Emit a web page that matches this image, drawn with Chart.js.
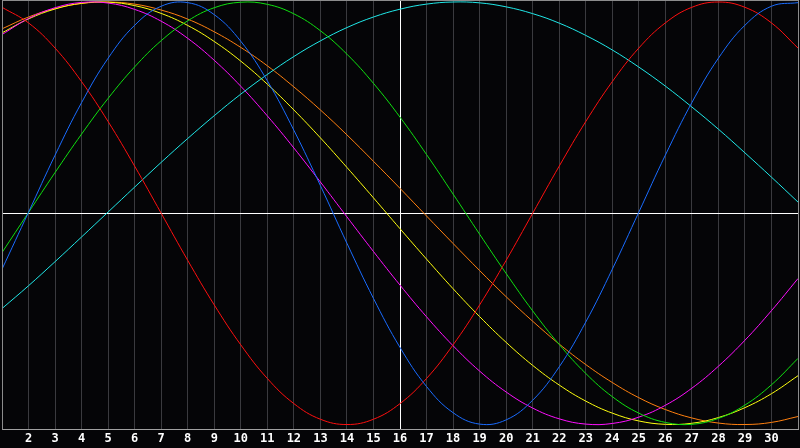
<!DOCTYPE html>
<html>
<head>
<meta charset="utf-8">
<script src="https://cdn.jsdelivr.net/npm/chart.js@4.4.1/dist/chart.umd.min.js"></script>
<style>
html,body{margin:0;padding:0;background:#050507;}
#wrap{width:800px;height:448px;position:relative;}
</style>
</head>
<body>
<div id="wrap"><canvas id="c"></canvas></div>
<script>
const days = [1,2,3,4,5,6,7,8,9,10,11,12,13,14,15,16,17,18,19,20,21,22,23,24,25,26,27,28,29,30,31];
const highlightDay = 16;

const physical = [-0.265,0.005,0.275,0.524,0.734,0.890,0.980,0.997,0.940,0.814,0.627,0.393,0.131,-0.142,-0.403,-0.635,-0.820,-0.944,-0.998,-0.978,-0.885,-0.727,-0.515,-0.265,0.005,0.275,0.524,0.734,0.890,0.980,0.997];
const emotional = [0.975,0.901,0.782,0.623,0.434,0.223,0,-0.223,-0.434,-0.623,-0.782,-0.901,-0.975,-1,-0.975,-0.901,-0.782,-0.623,-0.434,-0.223,0,0.223,0.434,0.623,0.782,0.901,0.975,1,0.975,0.901,0.782];
const intellectual = [-0.186,0.004,0.193,0.375,0.544,0.693,0.817,0.911,0.973,0.999,0.989,0.944,0.864,0.753,0.615,0.455,0.278,0.091,-0.099,-0.285,-0.462,-0.621,-0.758,-0.868,-0.946,-0.990,-0.999,-0.971,-0.908,-0.812,-0.687];
const spiritual = [-0.451,-0.343,-0.229,-0.112,0.006,0.124,0.241,0.354,0.462,0.564,0.657,0.742,0.816,0.879,0.929,0.966,0.990,1.000,0.996,0.977,0.945,0.900,0.842,0.773,0.692,0.602,0.503,0.398,0.286,0.171,0.053];
const intuitive = [0.846,0.922,0.973,0.998,0.995,0.965,0.909,0.828,0.724,0.601,0.461,0.309,0.148,-0.017,-0.181,-0.340,-0.490,-0.627,-0.747,-0.846,-0.922,-0.973,-0.998,-0.995,-0.965,-0.909,-0.828,-0.724,-0.601,-0.461,-0.309];
const aesthetic = [0.854,0.920,0.967,0.994,0.999,0.983,0.946,0.889,0.813,0.720,0.611,0.489,0.357,0.217,0.073,-0.073,-0.217,-0.357,-0.489,-0.611,-0.720,-0.813,-0.889,-0.946,-0.983,-0.999,-0.994,-0.967,-0.920,-0.854,-0.769];
const awareness = [0.873,0.929,0.969,0.993,1.000,0.990,0.962,0.919,0.859,0.785,0.698,0.598,0.489,0.371,0.246,0.118,-0.013,-0.143,-0.271,-0.395,-0.511,-0.619,-0.716,-0.801,-0.873,-0.929,-0.969,-0.993,-1.000,-0.990,-0.962];

function pts(arr){ return days.map((d,i)=>({x:d,y:arr[i]})); }
function ds(label, arr, color){
  return {label, data: pts(arr), borderColor: color, backgroundColor: color,
    borderWidth: 1, pointRadius: 0, pointHoverRadius: 0, tension: 0.4, fill: false};
}

const frame = {
  id:'frame',
  beforeDraw(chart){
    const c = chart.ctx;
    c.save();
    c.fillStyle = '#050507';
    c.fillRect(0,0,chart.width,chart.height);
    c.restore();
  },
  beforeDatasetsDraw(chart){
    const a = chart.chartArea, c = chart.ctx;
    const y0 = Math.round(chart.scales.y.getPixelForValue(0)) + 0.5;
    c.save();
    c.strokeStyle = '#ffffff';
    c.lineWidth = 1;
    c.beginPath(); c.moveTo(a.left, y0); c.lineTo(a.right, y0); c.stroke();
    c.restore();
  },
  afterDraw(chart){
    const a = chart.chartArea, c = chart.ctx;
    c.save();
    c.strokeStyle = '#8c8c8c';
    c.lineWidth = 1;
    c.beginPath();
    c.moveTo(a.left, a.top+0.5); c.lineTo(a.right, a.top+0.5);
    c.moveTo(a.left+0.5, a.top); c.lineTo(a.left+0.5, a.bottom);
    c.stroke();
    c.restore();
  }
};

new Chart(document.getElementById('c'), {
  type: 'line',
  data: { datasets: [
    ds('Physical', physical, '#1a6cff'),
    ds('Emotional', emotional, '#ff1010'),
    ds('Intellectual', intellectual, '#10e010'),
    ds('Spiritual', spiritual, '#20e8e8'),
    ds('Intuitive', intuitive, '#ff10ff'),
    ds('Aesthetic', aesthetic, '#ffff10'),
    ds('Awareness', awareness, '#ff8010')
  ]},
  options: {
    responsive: true, maintainAspectRatio: false, animation: false,
    layout: { padding: 0, autoPadding: false },
    plugins: { legend: { display: false }, tooltip: { enabled: false } },
    scales: {
      x: {
        type: 'linear', min: 1, max: 31,
        afterBuildTicks(s){ s.ticks = days.map(v=>({value:v})); },
        ticks: {
          color: '#ffffff', autoSkip: false, maxRotation: 0, padding: 2,
          font: { family: '"DejaVu Sans Mono", monospace', weight: 'bold', size: 12 },
          callback: (v) => (v === days[0] || v === days[days.length-1]) ? '' : String(v)
        },
        grid: {
          drawTicks: false,
          lineWidth: 1,
          color: (ctx) => {
            const v = ctx.tick && ctx.tick.value;
            if (v === highlightDay) return '#ffffff';
            if (v === days[0] || v === days[days.length-1]) return '#8c8c8c';
            return '#3a3a3e';
          }
        },
        border: { display: true, color: '#a0a0a0', width: 1 }
      },
      y: {
        display: false,
        min: -1.024, max: 1.0095
      }
    }
  },
  plugins: [frame]
});
</script>
</body>
</html>
